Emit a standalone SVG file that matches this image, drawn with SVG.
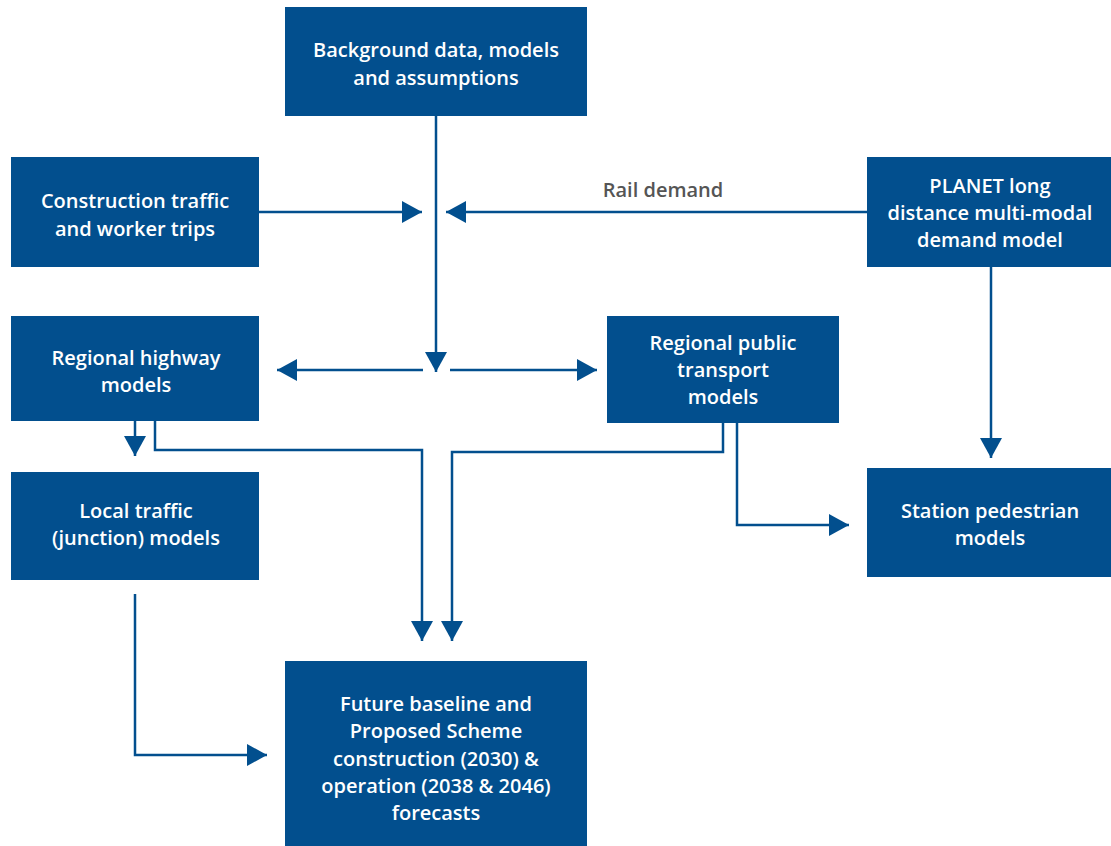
<svg xmlns="http://www.w3.org/2000/svg" width="1111" height="846" viewBox="0 0 1111 846">
<style>
.box{fill:#024f8e}
.t{font-family:"Open Sans","Liberation Sans",sans-serif;font-weight:600;font-size:20px;fill:#ffffff;text-anchor:middle}
.lbl{font-family:"Open Sans","Liberation Sans",sans-serif;font-weight:600;font-size:20px;fill:#555555;text-anchor:middle}
.c{fill:none;stroke:#024f8e;stroke-width:2.5;marker-end:url(#ah)}
</style>
<defs>
<marker id="ah" viewBox="0 0 20 22" refX="20" refY="11" markerWidth="20" markerHeight="22" markerUnits="userSpaceOnUse" orient="auto">
<path d="M0,0 L20,11 L0,22 Z" fill="#024f8e"/>
</marker>
</defs>
<rect width="1111" height="846" fill="#ffffff"/>
<g id="connectors">
<polyline class="c" points="436,116 436,372"/>
<polyline class="c" points="259,212 422,212"/>
<polyline class="c" points="867,212 446,212"/>
<polyline class="c" points="423,370 277,370"/>
<polyline class="c" points="450,370 597,370"/>
<polyline class="c" points="135,421 135,456"/>
<polyline class="c" points="155,421 155,450 422,450 422,641"/>
<polyline class="c" points="723,423 723,452 452,452 452,641"/>
<polyline class="c" points="737,423 737,525 849,525"/>
<polyline class="c" points="991,267 991,458"/>
<polyline class="c" points="135,594 135,755 267,755"/>
<text class="lbl" x="663" y="197">Rail demand</text>
</g>
<g id="background">
<rect class="box" x="285" y="7" width="302" height="109"/>
<text class="t" x="436" y="57">Background data, models</text>
<text class="t" x="436" y="85">and assumptions</text>
</g>
<g id="construction">
<rect class="box" x="11" y="157" width="248" height="110"/>
<text class="t" x="135" y="208">Construction traffic</text>
<text class="t" x="135" y="236">and worker trips</text>
</g>
<g id="planet">
<rect class="box" x="867" y="157" width="244" height="110"/>
<text class="t" x="990" y="193">PLANET long</text>
<text class="t" x="990" y="220">distance multi-modal</text>
<text class="t" x="990" y="247">demand model</text>
</g>
<g id="highway">
<rect class="box" x="11" y="316" width="248" height="105"/>
<text class="t" x="136" y="365">Regional highway</text>
<text class="t" x="136" y="392">models</text>
</g>
<g id="publictransport">
<rect class="box" x="607" y="316" width="232" height="107"/>
<text class="t" x="723" y="350">Regional public</text>
<text class="t" x="723" y="377">transport</text>
<text class="t" x="723" y="404">models</text>
</g>
<g id="local">
<rect class="box" x="11" y="472" width="248" height="108"/>
<text class="t" x="136" y="518">Local traffic</text>
<text class="t" x="136" y="545">(junction) models</text>
</g>
<g id="station">
<rect class="box" x="867" y="468" width="244" height="109"/>
<text class="t" x="990" y="518">Station pedestrian</text>
<text class="t" x="990" y="545">models</text>
</g>
<g id="future">
<rect class="box" x="285" y="661" width="302" height="185"/>
<text class="t" x="436" y="711">Future baseline and</text>
<text class="t" x="436" y="738">Proposed Scheme</text>
<text class="t" x="436" y="766">construction (2030) &amp;</text>
<text class="t" x="436" y="793">operation (2038 &amp; 2046)</text>
<text class="t" x="436" y="820">forecasts</text>
</g>
</svg>
